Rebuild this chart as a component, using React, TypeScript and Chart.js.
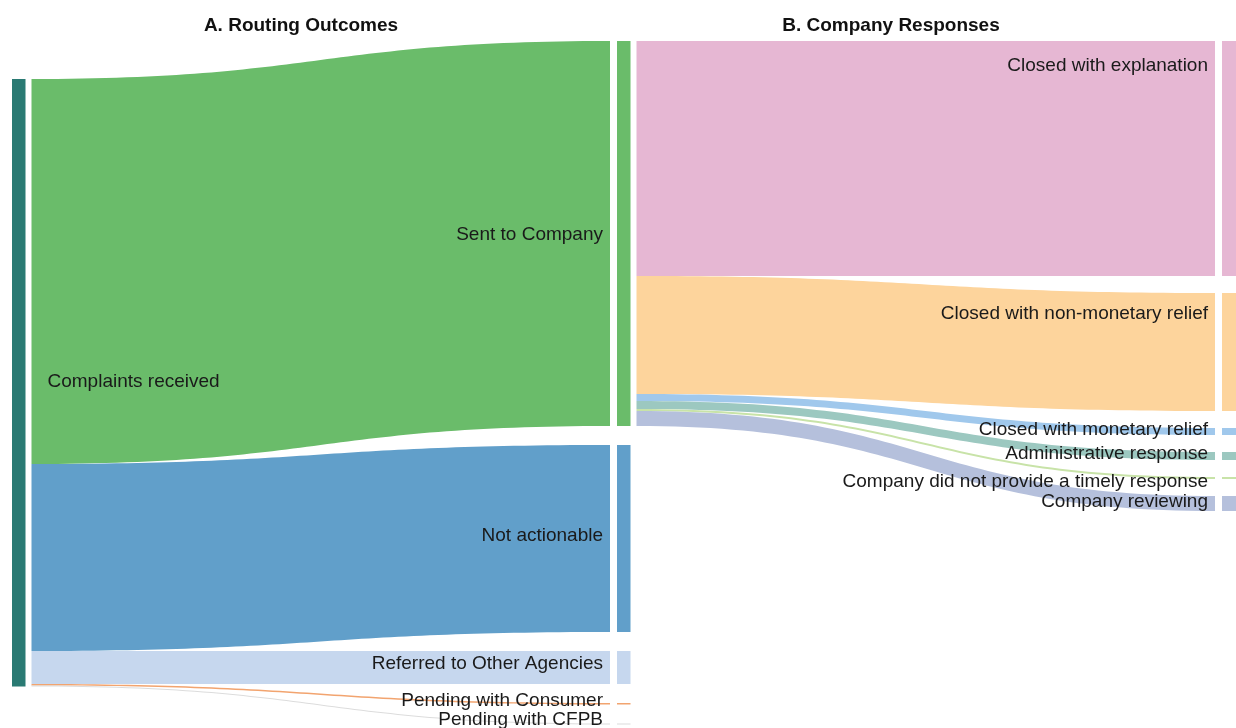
import React, { useEffect, useRef } from 'react';
import { Chart, registerables } from 'chart.js';

Chart.register(...registerables);

// ---- Data (thousands of complaints) ----
const panelTitles = ['A. Routing Outcomes', 'B. Company Responses'];
const sourceLabel = 'Complaints received';
const sourceColor = '#2a7a73';

const routingLabels = [
  'Sent to Company',
  'Not actionable',
  'Referred to Other Agencies',
  'Pending with Consumer',
  'Pending with CFPB',
];
const routingValues = [770, 374, 66, 3, 2];
const routingColors = ['#6abc6a', '#619fca', '#c6d7ee', '#f2a46f', '#dcdcdc'];

const responseLabels = [
  'Closed with explanation',
  'Closed with non-monetary relief',
  'Closed with monetary relief',
  'Administrative response',
  'Company did not provide a timely response',
  'Company reviewing',
];
const responseValues = [470, 236, 14, 16, 4, 30];
const responseColors = ['#e6b7d3', '#fdd49c', '#a0c8ec', '#9cc8c0', '#c8e3a8', '#b5c0dc'];

// ---- Style / layout (not data) ----
const NODE_W = 13.5;
const PAD_A = 38; // node padding, value units
const PAD_B = 34;
const GAP_L = 6;
const GAP_R = 7;
const sourceLabelDy = -1;
const routingLabelDy = [1, -3, -4, -3, -4];
const responseLabelDy = [3, -1, -2, -2, 4, -2];
const LABEL_FONT = '19px "Liberation Sans", Arial, sans-serif';
const TITLE_FONT = 'bold 19px "Liberation Sans", Arial, sans-serif';

function band(
  ctx: CanvasRenderingContext2D,
  xa: number, ya0: number, ya1: number,
  xb: number, yb0: number, yb1: number,
  color: string
) {
  const xm = (xa + xb) / 2;
  ctx.fillStyle = color;
  ctx.beginPath();
  ctx.moveTo(xa, ya0);
  ctx.bezierCurveTo(xm, ya0, xm, yb0, xb, yb0);
  ctx.lineTo(xb, yb1);
  ctx.bezierCurveTo(xm, yb1, xm, ya1, xa, ya1);
  ctx.closePath();
  ctx.fill();
}

const sankeyPlugin = {
  id: 'sankeyDraw',
  afterDraw(chart: any) {
    const ctx: CanvasRenderingContext2D = chart.ctx;
    const xs = chart.scales.x;
    const ys = chart.scales.y;
    const py = (v: number) => ys.getPixelForValue(v);
    const x0 = xs.getPixelForValue(0);
    const x1 = xs.getPixelForValue(1);
    const x2 = xs.getPixelForValue(2);

    // column 1 nodes
    const col1: { a: number; b: number }[] = [];
    let acc = 0;
    routingValues.forEach((v) => {
      col1.push({ a: acc, b: acc + v });
      acc += v + PAD_A;
    });
    const col1Span = acc - PAD_A;
    const total = routingValues.reduce((s, v) => s + v, 0);
    const srcTop = (col1Span - total) / 2;

    // column 2 nodes
    const col2: { a: number; b: number }[] = [];
    acc = 0;
    responseValues.forEach((v) => {
      col2.push({ a: acc, b: acc + v });
      acc += v + PAD_B;
    });

    ctx.save();
    // links panel A
    let s = srcTop;
    routingValues.forEach((v, i) => {
      band(ctx, x0 + NODE_W + GAP_L, py(s), py(s + v), x1 - GAP_R, py(col1[i].a), py(col1[i].b), routingColors[i]);
      s += v;
    });
    // links panel B (from "Sent to Company")
    s = col1[0].a;
    responseValues.forEach((v, i) => {
      band(ctx, x1 + NODE_W + GAP_L, py(s), py(s + v), x2 - GAP_R, py(col2[i].a), py(col2[i].b), responseColors[i]);
      s += v;
    });

    // nodes
    ctx.fillStyle = sourceColor;
    ctx.fillRect(x0, py(srcTop), NODE_W, py(srcTop + total) - py(srcTop));
    col1.forEach((n, i) => {
      ctx.fillStyle = routingColors[i];
      ctx.fillRect(x1, py(n.a), NODE_W, Math.max(1, py(n.b) - py(n.a)));
    });
    col2.forEach((n, i) => {
      ctx.fillStyle = responseColors[i];
      ctx.fillRect(x2, py(n.a), NODE_W + 1, Math.max(1, py(n.b) - py(n.a)));
    });

    // labels
    ctx.fillStyle = '#1a1a1a';
    ctx.font = LABEL_FONT;
    ctx.textBaseline = 'middle';
    ctx.textAlign = 'left';
    ctx.fillText(sourceLabel, x0 + NODE_W + 22, (py(srcTop) + py(srcTop + total)) / 2 + sourceLabelDy);
    ctx.textAlign = 'right';
    col1.forEach((n, i) => {
      ctx.fillText(routingLabels[i], x1 - 14, (py(n.a) + py(n.b)) / 2 + routingLabelDy[i]);
    });
    col2.forEach((n, i) => {
      const top = py(n.a);
      const h = py(n.b) - top;
      ctx.fillText(responseLabels[i], x2 - 14, top + Math.min(h / 2, 22) + responseLabelDy[i]);
    });

    // panel titles
    ctx.font = TITLE_FONT;
    ctx.textAlign = 'center';
    ctx.fillStyle = '#111';
    ctx.fillText(panelTitles[0], 301, 26);
    ctx.fillText(panelTitles[1], 891, 26);
    ctx.restore();
  },
};

export default function App() {
  const ref = useRef<HTMLCanvasElement | null>(null);
  useEffect(() => {
    document.body.style.margin = '0';
    if (!ref.current) return;
    const chart = new Chart(ref.current, {
      type: 'scatter',
      data: { datasets: [{ data: [] }] },
      options: {
        animation: false,
        responsive: true,
        maintainAspectRatio: false,
        layout: { padding: { left: 12, right: 14, top: 41, bottom: 0 } },
        plugins: { legend: { display: false }, tooltip: { enabled: false }, title: { display: false } },
        scales: {
          x: { type: 'linear', min: 0, max: 2, display: false },
          y: { type: 'linear', min: 0, max: 1374, reverse: true, display: false },
        },
      },
      plugins: [sankeyPlugin],
    });
    return () => chart.destroy();
  }, []);
  return (
    <div style={{ position: 'fixed', left: 0, top: 0, width: 1236, height: 728, background: '#fff' }}>
      <canvas ref={ref} />
    </div>
  );
}
